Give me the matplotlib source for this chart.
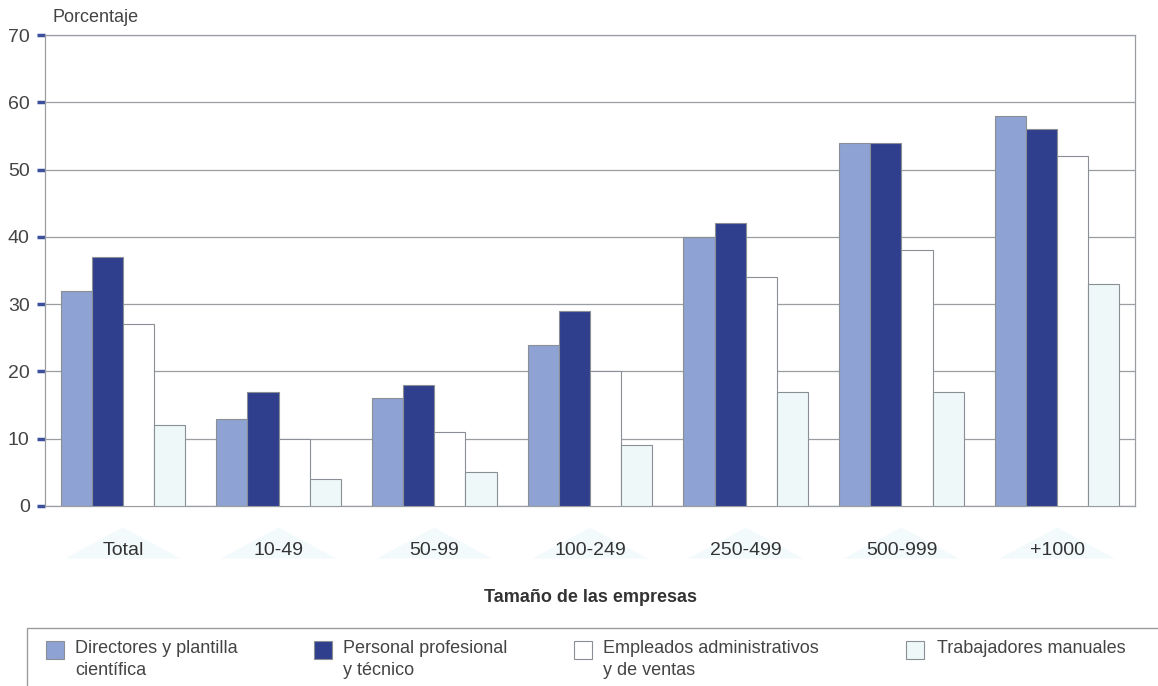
import matplotlib.pyplot as plt
from matplotlib.patches import Rectangle
import numpy as np

plt.rcParams['font.family'] = ['Liberation Sans', 'DejaVu Sans']

# Data
sizes = ['Total', '10-49', '50-99', '100-249', '250-499', '500-999', '+1000']
directores = [32, 13, 16, 24, 40, 54, 58]
profesional = [37, 17, 18, 29, 42, 54, 56]
administrativos = [27, 10, 11, 20, 34, 38, 52]
manuales = [12, 4, 5, 9, 17, 17, 33]

series = [directores, profesional, administrativos, manuales]
labels = ['Directores y plantilla\ncientífica', 'Personal profesional\ny técnico',
          'Empleados administrativos\ny de ventas', 'Trabajadores manuales']
colors = ['#8ea3d3', '#2f3f8e', '#ffffff', '#eef8f8']
edge = '#8a8f95'

fig = plt.figure(figsize=(11.58, 6.86), dpi=100)
ax = fig.add_axes([45 / 1158, 1 - 506 / 686, 1090 / 1158, 471 / 686])

x = np.arange(len(sizes))
w = 0.2
for i, (vals, c) in enumerate(zip(series, colors)):
    ax.bar(x + (i - 1.5) * w, vals, w, color=c, edgecolor=edge, linewidth=0.8, zorder=3)

# faint triangles behind category labels
for xi in x:
    ax.fill([xi - 0.37, xi, xi + 0.37], [-7.8, -3.2, -7.8], color='#f3fafb',
            clip_on=False, zorder=0, lw=0)

ax.set_xlim(-0.5, len(sizes) - 0.5)
ax.set_ylim(0, 70)
ax.set_yticks(range(0, 71, 10))
ax.yaxis.grid(True, color='#9a9ea3', linewidth=0.9, zorder=0)
ax.set_axisbelow(True)
for s in ax.spines.values():
    s.set_color('#9a9ea3')
    s.set_linewidth(0.9)

ax.set_xticks(x)
ax.set_xticklabels(sizes, fontsize=14, color='#333333')
ax.tick_params(axis='x', length=0, pad=26)
ax.tick_params(axis='y', length=6, width=2.5, color='#3b4f9c', labelsize=14,
               labelcolor='#444444', pad=5)

fig.text(52 / 1158, 1 - 18 / 686, 'Porcentaje', fontsize=13, color='#444444', va='center')
fig.text(590 / 1158, 1 - 597 / 686, 'Tamaño de las empresas', fontsize=13,
         fontweight='bold', color='#333333', ha='center', va='center')

# legend box (only top and left edges visible)
fig.add_artist(Rectangle((27 / 1158, -0.1), 1.2, 0.1 + (686 - 628) / 686,
                         transform=fig.transFigure, facecolor='none',
                         edgecolor='#9a9ea3', linewidth=1))
sq_x = [46, 314, 574, 906]
tx_x = [75, 343, 603, 937]
for sx, tx, c, lab in zip(sq_x, tx_x, colors, labels):
    fig.add_artist(Rectangle((sx / 1158, 1 - 659 / 686), 18 / 1158, 18 / 686,
                             transform=fig.transFigure, facecolor=c,
                             edgecolor=edge, linewidth=0.8))
    fig.text(tx / 1158, 1 - 640 / 686, lab, fontsize=13, color='#444444',
             va='top', linespacing=1.35)

fig.savefig('out.png', dpi=100)
